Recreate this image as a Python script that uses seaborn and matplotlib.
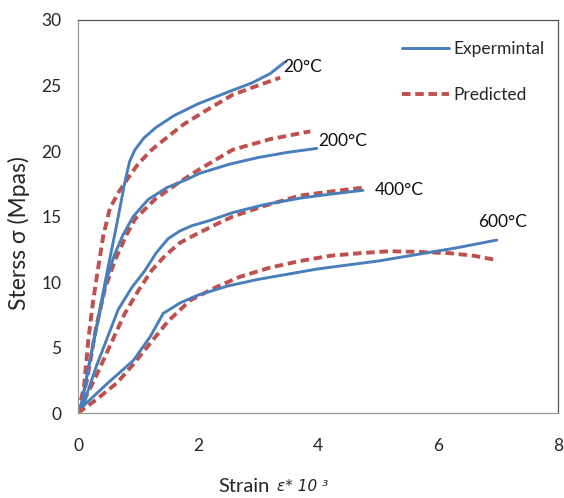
import matplotlib
matplotlib.use("Agg")
import matplotlib.pyplot as plt
import seaborn as sns
import pandas as pd

# Stress-strain curves at four temperatures (strain in 1e-3, stress in MPa)
exp_20_x = [0.05, 0.25, 0.47, 0.65, 0.78, 0.86, 0.95, 1.1, 1.3, 1.6, 2.0, 2.5, 2.9, 3.2, 3.45]
exp_20_y = [0.5, 5.2, 10.4, 14.5, 17.6, 19.2, 20.1, 21.0, 21.8, 22.7, 23.6, 24.5, 25.2, 25.9, 26.8]
pred_20_x = [0.0, 0.1, 0.17, 0.25, 0.33, 0.42, 0.53, 0.67, 0.83, 1.0, 1.23, 1.5, 1.75, 2.1, 2.58, 3.0, 3.37]
pred_20_y = [0.0, 2.0, 5.5, 8.5, 10.9, 13.5, 15.6, 16.8, 17.9, 19.0, 20.1, 21.1, 22.0, 23.0, 24.3, 25.0, 25.6]

exp_200_x = [0.05, 0.25, 0.48, 0.6, 0.75, 0.92, 1.17, 1.48, 1.8, 2.03, 2.53, 3.0, 3.5, 3.98]
exp_200_y = [0.5, 5.2, 10.2, 12.0, 13.6, 15.0, 16.3, 17.2, 17.8, 18.3, 19.0, 19.5, 19.9, 20.2]
pred_200_x = [0.0, 0.15, 0.3, 0.45, 0.62, 0.81, 0.95, 1.28, 1.62, 1.95, 2.58, 3.2, 3.87]
pred_200_y = [0.0, 2.5, 6.5, 9.5, 11.7, 13.6, 14.8, 16.3, 17.4, 18.4, 20.1, 20.9, 21.5]

exp_400_x = [0.08, 0.3, 0.67, 0.9, 1.12, 1.3, 1.5, 1.7, 1.9, 2.2, 2.58, 3.1, 3.7, 4.2, 4.75]
exp_400_y = [0.5, 3.5, 7.9, 9.6, 10.9, 12.2, 13.3, 13.9, 14.3, 14.7, 15.3, 15.9, 16.4, 16.7, 17.0]
pred_400_x = [0.0, 0.3, 0.78, 1.0, 1.23, 1.45, 1.7, 1.95, 2.3, 2.58, 3.1, 3.7, 4.2, 4.75]
pred_400_y = [0.0, 2.8, 7.6, 9.3, 10.9, 12.0, 13.0, 13.6, 14.4, 15.0, 15.8, 16.6, 16.9, 17.2]

exp_600_x = [0.08, 0.5, 0.92, 1.2, 1.42, 1.7, 2.0, 2.5, 3.0, 3.5, 4.0, 4.5, 5.0, 5.65, 6.3, 6.98]
exp_600_y = [0.5, 2.3, 4.0, 5.8, 7.6, 8.4, 9.0, 9.7, 10.2, 10.6, 11.0, 11.3, 11.6, 12.1, 12.6, 13.2]
pred_600_x = [0.0, 0.3, 0.65, 0.9, 1.2, 1.5, 1.87, 2.3, 2.7, 3.2, 3.7, 4.2, 4.7, 5.2, 5.65, 6.2, 6.6, 6.95]
pred_600_y = [0.0, 1.0, 2.3, 3.6, 5.3, 7.0, 8.6, 9.6, 10.4, 11.1, 11.6, 12.0, 12.2, 12.35, 12.3, 12.2, 12.0, 11.7]

temp_labels = ["20°C", "200°C", "400°C", "600°C"]
label_x = [3.42, 4.0, 4.95, 6.67]
label_y = [26.4, 20.8, 17.0, 14.6]

x_ticks = [0, 2, 4, 6, 8]
y_ticks = [0, 5, 10, 15, 20, 25, 30]

curves = [
    ("20", "Expermintal", exp_20_x, exp_20_y),
    ("20", "Predicted", pred_20_x, pred_20_y),
    ("200", "Expermintal", exp_200_x, exp_200_y),
    ("200", "Predicted", pred_200_x, pred_200_y),
    ("400", "Expermintal", exp_400_x, exp_400_y),
    ("400", "Predicted", pred_400_x, pred_400_y),
    ("600", "Expermintal", exp_600_x, exp_600_y),
    ("600", "Predicted", pred_600_x, pred_600_y),
]
rows = []
for temp, kind, xs, ys in curves:
    for xv, yv in zip(xs, ys):
        rows.append({"temp": temp, "kind": kind, "strain": xv, "stress": yv})
df = pd.DataFrame(rows)

sns.set_style("white")
plt.rcParams["font.family"] = ["Lato", "DejaVu Sans"]

fig = plt.figure(figsize=(5.64, 4.98), dpi=100)
ax = fig.add_axes([78 / 564, 1 - 413 / 498, 480 / 564, 393 / 498])

blue = "#4A7EBB"
red = "#C0504D"
styles = {"Expermintal": dict(color=blue, lw=2.1, ls="-"),
          "Predicted": dict(color=red, lw=2.8, ls=(0, (2.2, 1.2)))}

for temp in ["20", "200", "400", "600"]:
    for kind in ["Predicted", "Expermintal"]:
        sub = df[(df.temp == temp) & (df.kind == kind)]
        st = styles[kind]
        sns.lineplot(data=sub, x="strain", y="stress", sort=False, estimator=None,
                     color=st["color"], lw=st["lw"], ls=st["ls"], ax=ax,
                     label=kind if temp == "20" else None,
                     solid_joinstyle="round", dash_joinstyle="round",
                     zorder=3 if kind == "Expermintal" else 2)

for t, tx, ty in zip(temp_labels, label_x, label_y):
    ax.text(tx, ty, t, fontsize=12.5, va="center", ha="left", color="#111111")

ax.set_xlim(0, 8)
ax.set_ylim(0, 30)
ax.set_xticks(x_ticks)
ax.set_yticks(y_ticks)
ax.tick_params(axis="x", direction="out", length=3, width=0.8, color="#888888",
               labelsize=12.5, pad=15)
ax.tick_params(axis="y", direction="out", length=4, width=0.8, color="#888888",
               labelsize=12.5, pad=8)
for side in ["left", "bottom"]:
    ax.spines[side].set_color("#999999")
    ax.spines[side].set_linewidth(0.9)
for side in ["top", "right"]:
    ax.spines[side].set_color("#555555")
    ax.spines[side].set_linewidth(0.9)

# x-axis title: upright word followed by the italic strain symbol and scale
ax.set_xlabel("")
ax.text(0.292, -0.188, "Strain", transform=ax.transAxes, ha="left", va="center",
        fontsize=14.5)
ax.text(0.415, -0.186, "ε* 10 ³", transform=ax.transAxes, ha="left", va="center",
        fontsize=11, fontstyle="italic", family="DejaVu Sans")

ax.set_ylabel("Sterss σ (Mpas)", fontsize=16.5)
ax.yaxis.set_label_coords(-0.100, 0.458)

handles, labels = ax.get_legend_handles_labels()
order = [labels.index("Expermintal"), labels.index("Predicted")]
leg = ax.legend([handles[i] for i in order], [labels[i] for i in order],
                loc="upper right", bbox_to_anchor=(1.0, 0.98), frameon=False,
                fontsize=12.5, handlelength=2.7, handletextpad=0.3,
                labelspacing=1.75, borderaxespad=0.35)

fig.savefig("out.png", dpi=100)
